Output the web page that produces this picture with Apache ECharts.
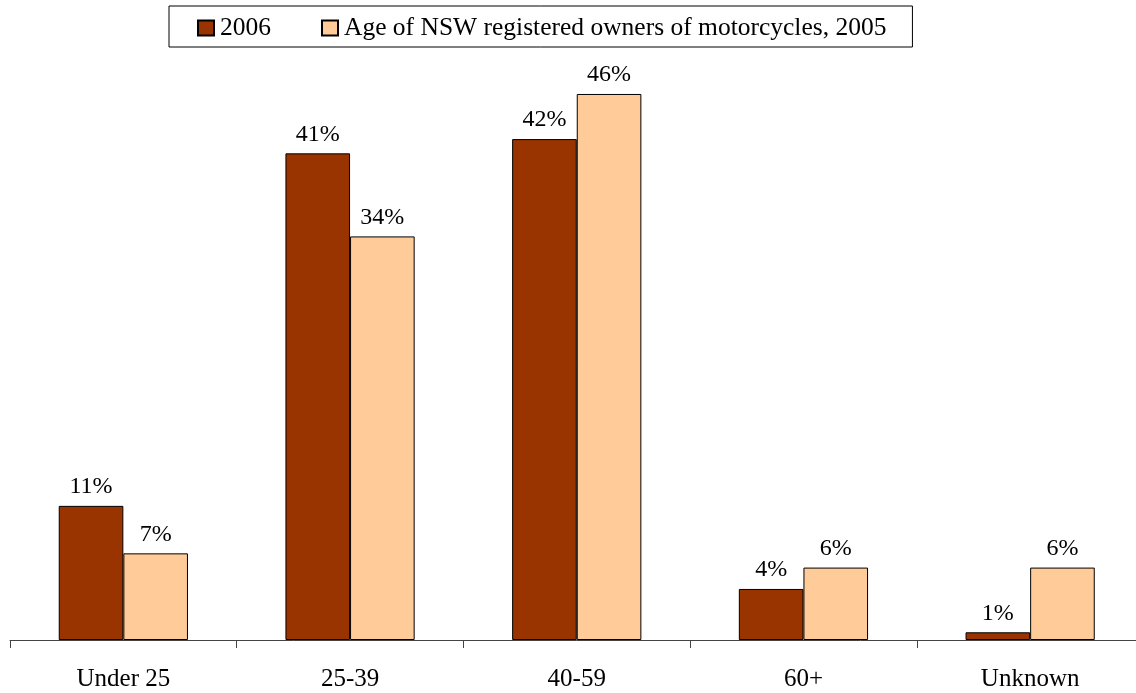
<!DOCTYPE html>
<html>
<head>
<meta charset="utf-8">
<script src="https://cdn.jsdelivr.net/npm/echarts@6/dist/echarts.min.js"></script>
<style>
html,body{margin:0;padding:0;background:#fff;overflow:hidden;width:1136px;height:693px;}
#chart{width:1144px;height:693px;}
</style>
</head>
<body>
<div id="chart"></div>
<script>
var categories = ['Under 25', '25-39', '40-59', '60+', 'Unknown'];
var seriesNames = ['2006', 'Age of NSW registered owners of motorcycles, 2005'];
var values2006 = [11.3, 41.0, 42.2, 4.3, 0.65];
var values2005 = [7.3, 34.0, 46.0, 6.1, 6.1];

var FONT = '"Liberation Serif", "Times New Roman", serif';
var chart = echarts.init(document.getElementById('chart'));

function lbl() {
  return {
    show: true,
    position: 'top',
    distance: 7,
    color: '#000',
    fontFamily: FONT,
    fontSize: 24,
    formatter: function (p) { return Math.round(p.value) + '%'; }
  };
}

chart.setOption({
  backgroundColor: '#fff',
  animation: false,
  legend: {
    left: 169,
    top: 6,
    orient: 'horizontal',
    borderColor: '#000',
    borderWidth: 1,
    padding: [9, 26, 6, 28],
    itemWidth: 16,
    itemHeight: 15,
    itemGap: 50,
    icon: 'rect',
    textStyle: { fontFamily: FONT, fontSize: 25.5, color: '#000', padding: [0, 0, 0, 1] },
    data: seriesNames
  },
  grid: { left: 10, right: 0.5, top: 46.5, height: 593.5, containLabel: false },
  xAxis: {
    type: 'category',
    data: categories,
    boundaryGap: true,
    axisLine: { lineStyle: { color: '#444', width: 1 } },
    axisTick: { show: true, length: 8, alignWithLabel: false, lineStyle: { color: '#444' } },
    axisLabel: { margin: 27, fontFamily: FONT, fontSize: 25, color: '#000' },
    splitLine: { show: false }
  },
  yAxis: {
    type: 'value',
    min: 0,
    max: 50,
    show: false,
    splitLine: { show: false }
  },
  series: [
    {
      name: seriesNames[0],
      type: 'bar',
      data: values2006,
      barGap: '0%',
      barCategoryGap: '43%',
      itemStyle: { color: '#993300', borderColor: '#000', borderWidth: 1 },
      label: lbl()
    },
    {
      name: seriesNames[1],
      type: 'bar',
      data: values2005,
      barGap: '0%',
      barCategoryGap: '43%',
      itemStyle: { color: '#FFCC99', borderColor: '#000', borderWidth: 1 },
      label: lbl()
    }
  ]
});
</script>
</body>
</html>
